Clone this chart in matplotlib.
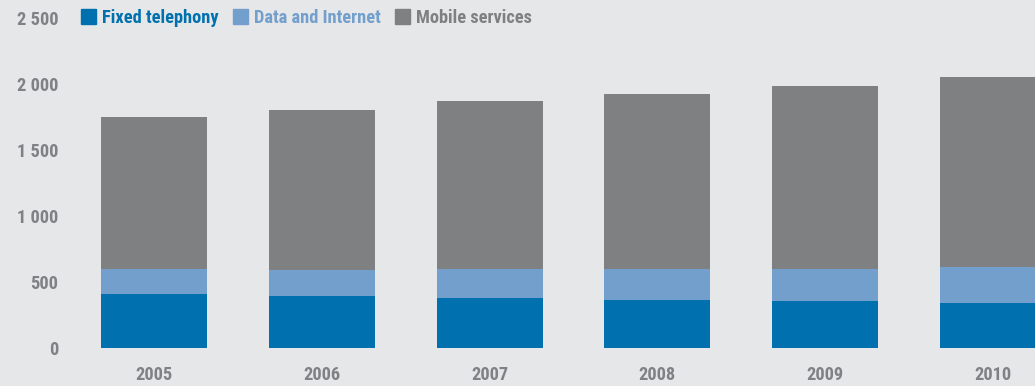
import matplotlib
matplotlib.use("Agg")
import matplotlib.pyplot as plt
from matplotlib.patches import Patch
import numpy as np

years = ["2005", "2006", "2007", "2008", "2009", "2010"]
fixed_telephony = [409, 394, 379, 364, 356, 341]
data_internet = [189, 197, 219, 234, 242, 273]
mobile_services = [1152, 1212, 1273, 1326, 1387, 1439]
y_ticks = [0, 500, 1000, 1500, 2000, 2500]
y_tick_labels = ["0", "500", "1 000", "1 500", "2 000", "2 500"]
series_names = ["Fixed telephony", "Data and Internet", "Mobile services"]

BG = "#e6e7e9"
C_FIXED = "#0071ae"
C_DATA = "#729fcb"
C_MOBILE = "#7f8082"
TXT = "#808184"

plt.rcParams["font.family"] = ["Roboto Condensed", "Roboto", "DejaVu Sans"]
plt.rcParams["font.weight"] = "bold"

FS = 13.2
W, H = 1035, 386
fig = plt.figure(figsize=(W / 100, H / 100), dpi=100, facecolor=BG)
ax = fig.add_axes([70 / W, (H - 348) / H, (1035 - 70) / W, 330 / H], facecolor=BG)

x = np.arange(len(years))
width = 0.632
fixed = np.array(fixed_telephony)
data = np.array(data_internet)
mobile = np.array(mobile_services)
ax.bar(x, fixed, width, color=C_FIXED)
ax.bar(x, data, width, bottom=fixed, color=C_DATA)
ax.bar(x, mobile, width, bottom=fixed + data, color=C_MOBILE)

ax.set_xlim(-0.5, 5.25)
ax.set_ylim(0, 2500)
for s in ax.spines.values():
    s.set_visible(False)

ax.set_yticks(y_ticks)
ax.set_yticklabels(y_tick_labels)
ax.set_xticks(x)
ax.set_xticklabels(years)
ax.tick_params(length=0, labelsize=FS, labelcolor=TXT)
ax.tick_params(axis="y", pad=8.6)
ax.tick_params(axis="x", pad=13)
for lab in ax.get_yticklabels() + ax.get_xticklabels():
    lab.set_fontweight("bold")

handles = [Patch(color=C_FIXED), Patch(color=C_DATA), Patch(color=C_MOBILE)]
leg = fig.legend(handles, series_names, loc="center left",
                 bbox_to_anchor=(81 / W, 1 - 18 / H), ncol=3, frameon=False,
                 borderpad=0, borderaxespad=0,
                 handlelength=0.83, handleheight=0.83, handletextpad=0.3,
                 columnspacing=0.8, fontsize=FS,
                 labelcolor=[C_FIXED, C_DATA, C_MOBILE])
for t in leg.get_texts():
    t.set_fontweight("bold")

fig.savefig("out.png", dpi=100, facecolor=BG)
